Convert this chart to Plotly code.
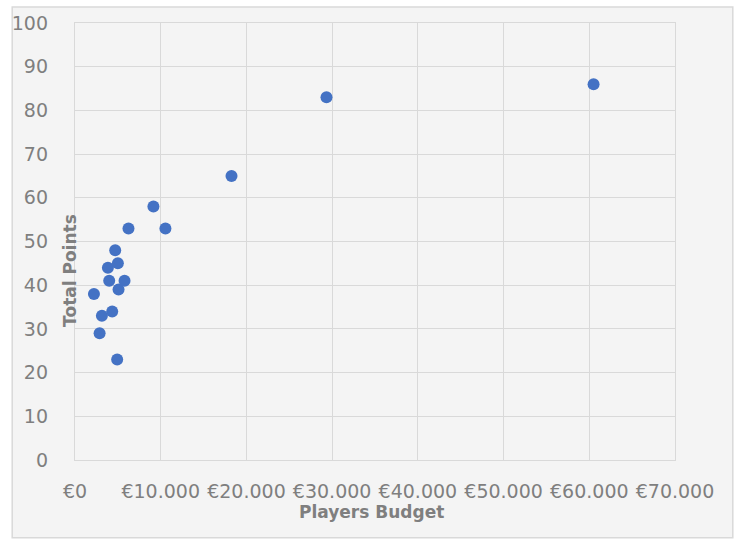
import plotly.graph_objects as go

# Data
budget = [2210, 2870, 3140, 3840, 3990, 4340, 4690, 4920, 5000, 5080, 5780,
          6240, 9150, 10550, 18260, 29340, 60500]
points = [38, 29, 33, 44, 41, 34, 48, 23, 45, 39, 41,
          53, 58, 53, 65, 83, 86]

x_tick_vals = [0, 10000, 20000, 30000, 40000, 50000, 60000, 70000]
x_tick_labels = ["€0", "€10.000", "€20.000", "€30.000", "€40.000", "€50.000", "€60.000", "€70.000"]
y_tick_vals = [0, 10, 20, 30, 40, 50, 60, 70, 80, 90, 100]

x_title = "Players Budget"
y_title = "Total Points"

FONT = "DejaVu Sans"
GRID = "#d9d9d9"
TXT = "#7f7f7f"

fig = go.Figure()
fig.add_trace(go.Scatter(
    x=budget, y=points, mode="markers",
    marker=dict(color="#4472c4", size=12, line=dict(width=0)),
    showlegend=False, hoverinfo="x+y",
))

W, H = 740, 540
L, R, T, B = 73, 65, 21, 80

fig.update_layout(
    width=W, height=H,
    margin=dict(l=L, r=R, t=T, b=B, pad=0),
    paper_bgcolor="white",
    plot_bgcolor="#fafafa",
    font=dict(family=FONT, size=19, color=TXT),
    xaxis=dict(
        range=[0, 70000], tickvals=x_tick_vals, ticktext=x_tick_labels,
        showgrid=True, gridcolor=GRID, gridwidth=1.3, zeroline=False,
        showline=True, linecolor=GRID, linewidth=1.3, mirror=True,
        ticks="", tickangle=0, ticklabelstandoff=14,
        tickfont=dict(family=FONT, size=19, color=TXT),
        fixedrange=True,
    ),
    yaxis=dict(
        range=[0, 100], tickvals=y_tick_vals,
        showgrid=True, gridcolor=GRID, gridwidth=1.3, zeroline=False,
        showline=True, linecolor=GRID, linewidth=1.3, mirror=True,
        ticks="", ticklabelstandoff=22,
        tickfont=dict(family=FONT, size=19, color=TXT),
        fixedrange=True,
    ),
    shapes=[dict(
        type="rect", xref="paper", yref="paper", layer="below",
        x0=(10 - L) / (W - L - R), x1=(733 - L) / (W - L - R),
        y0=(H - B - 538) / (H - T - B), y1=(H - B - 5) / (H - T - B),
        fillcolor="#f4f4f4", line=dict(color=GRID, width=1.5),
    )],
    annotations=[
        dict(text=y_title, xref="paper", yref="paper",
             x=(68 - L) / (W - L - R), y=(H - B - 270) / (H - T - B),
             xanchor="center", yanchor="middle", textangle=-90, showarrow=False,
             font=dict(family=FONT, size=17, color=TXT, weight="bold")),
        dict(text=x_title, xref="paper", yref="paper",
             x=(370 - L) / (W - L - R), y=(H - B - 512) / (H - T - B),
             xanchor="center", yanchor="middle", showarrow=False,
             font=dict(family=FONT, size=17, color=TXT, weight="bold")),
    ],
)

fig.write_html("out.html", config={"displayModeBar": False})
